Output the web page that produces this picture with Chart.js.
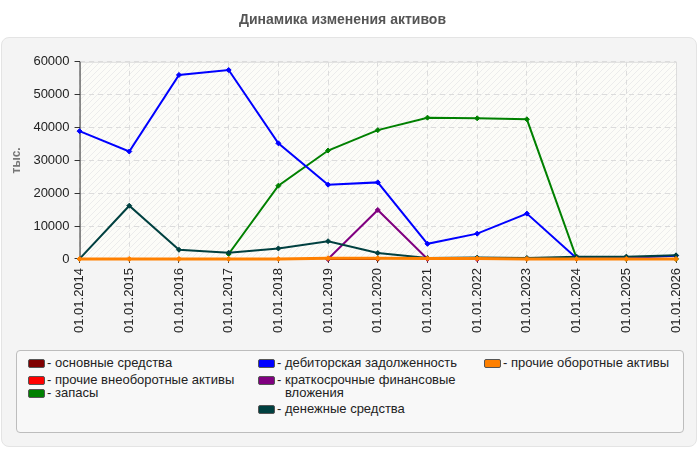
<!DOCTYPE html>
<html>
<head>
<meta charset="utf-8">
<script src="https://cdn.jsdelivr.net/npm/chart.js@4.4.0/dist/chart.umd.min.js"></script>
<style>
    body { margin: 0; background: #fff; font-family: "Liberation Sans", Arial, sans-serif; }
    #wrap { position: relative; width: 700px; height: 450px; }
    .panel { position: absolute; left: 1px; top: 37px; width: 696px; height: 410px; background: #f4f4f4; border: 1px solid #e4e4e4; border-radius: 8px; box-sizing: border-box; }
    #chart { position: absolute; left: 0; top: 0; }
    .legend__box { position: absolute; left: 16px; top: 350px; width: 668px; height: 83px; background: #f8f8f8; border: 1px solid #bdbdbd; border-radius: 4px; box-sizing: border-box; }
    .legend__item { position: absolute; font-size: 13px; line-height: 13px; color: #222; }
    .legend__swatch { position: absolute; width: 15px; height: 7px; border: 1px solid #555; border-radius: 2px; }
</style>
</head>
<body>
<div id="wrap">
    <div class="panel"></div>
    <canvas id="chart" width="700" height="345"></canvas>
    <div class="legend__box"></div>
    <div id="legend"></div>
</div>
<script>
// dates on the x axis
const labels = ['01.01.2014','01.01.2015','01.01.2016','01.01.2017','01.01.2018','01.01.2019','01.01.2020',
    '01.01.2021','01.01.2022','01.01.2023','01.01.2024','01.01.2025','01.01.2026'];

// series values, thousands
const fixedAssets   = [null, null, null, null, null, 0, 0, null, null, null, null, null, null];
const otherNonCur   = [null, null, null, null, null, null, null, 0, 0, null, null, null, null];
const stocks        = [null, null, null, 1500, 22300, 33000, 39200, 43000, 42800, 42500, 200, 0, 0];
const receivables   = [38900, 32700, 56000, 57500, 35200, 22600, 23300, 4600, 7700, 13800, 200, 300, 1000];
const shortInvest   = [null, null, null, null, null, 0, 14900, 0, 0, null, null, null, null];
const cash          = [0, 16200, 2800, 1900, 3200, 5400, 1800, 300, 400, 300, 700, 700, 1100];
const otherCurrent  = [0, 0, 0, 0, 0, 200, 200, 150, 150, 0, 0, 0, 0];

const yTicks = [0, 10000, 20000, 30000, 40000, 50000, 60000];

const series = [
    { name: 'основные средства', data: fixedAssets, color: '#800000', col: 0, top: 360 },
    { name: 'прочие внеоборотные активы', data: otherNonCur, color: '#ff0000', col: 0, top: 377 },
    { name: 'запасы', data: stocks, color: '#008000', col: 0, top: 390 },
    { name: 'дебиторская задолженность', data: receivables, color: '#0000ff', col: 1, top: 360 },
    { name: 'краткосрочные финансовые вложения', data: shortInvest, color: '#800080', col: 1, top: 377 },
    { name: 'денежные средства', data: cash, color: '#004040', col: 1, top: 406 },
    { name: 'прочие оборотные активы', data: otherCurrent, color: '#ff8000', col: 2, top: 360 },
];
const drawOrder = [6, 5, 4, 3, 2, 1, 0];

// legend (three columns like the original)
const colLeft = [28, 258, 484];
const legend = document.querySelector('#legend');
series.forEach(s => {
    let wrapW = s.col === 1 ? 195 : 210;
    legend.innerHTML += `<div class="legend__swatch" style="left:${colLeft[s.col]}px;top:${s.top - 1}px;background:${s.color}"></div>`
        + `<div class="legend__item" style="left:${colLeft[s.col] + 19}px;top:${s.top - 4}px;width:${wrapW}px">`
        + `<span style="position:absolute;left:0">-</span><span style="display:block;margin-left:8px">${s.name}</span></div>`;
});

// hatched plot background + solid axis line
const hatchPlugin = {
    id: 'hatch',
    beforeDraw(chart) {
        const { ctx, chartArea: a } = chart;
        const p = document.createElement('canvas');
        p.width = 6; p.height = 6;
        const pc = p.getContext('2d');
        pc.fillStyle = '#fcfcf8';
        pc.fillRect(0, 0, 6, 6);
        pc.strokeStyle = '#ececec';
        pc.lineWidth = 1;
        pc.beginPath();
        pc.moveTo(0, 6); pc.lineTo(6, 0);
        pc.stroke();
        ctx.save();
        ctx.fillStyle = ctx.createPattern(p, 'repeat');
        ctx.fillRect(a.left, a.top, a.right - a.left, a.bottom - a.top);
        ctx.strokeStyle = '#dddddd';
        ctx.lineWidth = 1;
        ctx.strokeRect(a.left + 0.5, a.top + 0.5, a.right - a.left, a.bottom - a.top);
        ctx.restore();
    },
    beforeDatasetsDraw(chart) {
        const { ctx, chartArea: a } = chart;
        ctx.save();
        ctx.strokeStyle = '#333';
        ctx.lineWidth = 1;
        ctx.beginPath();
        ctx.moveTo(a.left + 0.5, a.top);
        ctx.lineTo(a.left + 0.5, a.bottom);
        ctx.stroke();
        ctx.restore();
    }
};

new Chart(document.querySelector('#chart'), {
    type: 'line',
    data: {
        labels: labels,
        datasets: series.map((s, i) => ({
            label: s.name,
            data: s.data,
            borderColor: s.color,
            backgroundColor: s.color,
            borderWidth: i === 6 ? 3 : 2,
            pointStyle: 'rectRot',
            pointRadius: 2.5,
            pointBorderWidth: 1,
            tension: 0,
            spanGaps: false,
            clip: false,
            order: drawOrder[i]
        }))
    },
    options: {
        responsive: false,
        animation: false,
        layout: { padding: { left: 9, right: 24, top: 0, bottom: 7 } },
        plugins: {
            legend: { display: false },
            tooltip: { enabled: false },
            title: {
                display: true,
                text: 'Динамика изменения активов',
                color: '#555',
                font: { family: 'Liberation Sans', size: 14, weight: 'bold' },
                padding: { top: 12, bottom: 33 }
            }
        },
        scales: {
            x: {
                offset: false,
                grid: { color: '#dcdcdc', tickColor: '#333', tickLength: 4, drawTicks: true },
                border: { display: false, dash: [5, 4] },
                ticks: {
                    color: '#222', maxRotation: 90, minRotation: 90, autoSkip: false,
                    font: { family: 'Liberation Sans', size: 13 }, padding: 5
                }
            },
            y: {
                min: 0, max: 60000,
                afterBuildTicks: axis => { axis.ticks = yTicks.map(v => ({ value: v })) },
                grid: { color: '#dcdcdc', tickColor: '#333', tickLength: 5, drawTicks: true },
                border: { display: false, dash: [5, 4] },
                ticks: {
                    color: '#222', font: { family: 'Liberation Sans', size: 13 }, padding: 5,
                    callback: v => String(v)
                },
                title: {
                    display: true, text: 'тыс.', color: '#777',
                    font: { family: 'Liberation Sans', size: 12, weight: 'bold' }, padding: { top: 0, bottom: 5 }
                }
            }
        }
    },
    plugins: [hatchPlugin]
});
</script>
</body>
</html>
